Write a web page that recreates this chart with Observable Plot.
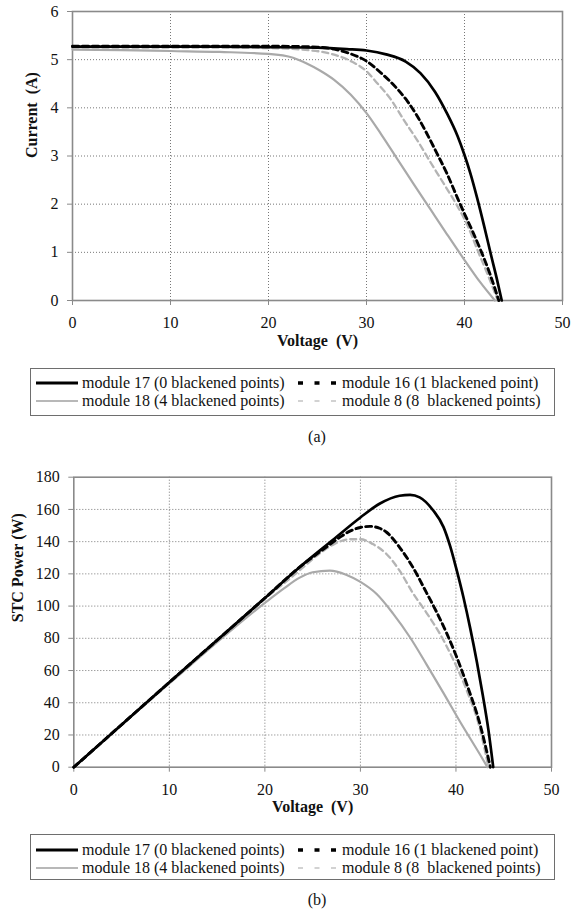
<!DOCTYPE html>
<html><head><meta charset="utf-8">
<script src="https://cdn.jsdelivr.net/npm/d3@7"></script>
<script src="https://cdn.jsdelivr.net/npm/@observablehq/plot@0.6"></script>
<style>
html,body{margin:0;padding:0;background:#fff;}
#page{position:relative;width:572px;height:912px;font-family:"Liberation Serif","Times New Roman",serif;color:#111;overflow:hidden;background:#fff;}
.chart{position:absolute;left:0;}
.legend{position:absolute;border:1px solid #6e6e6e;box-sizing:border-box;background:#fff;}
.item{position:absolute;font-size:16px;line-height:18px;white-space:pre;transform:translateY(-50%);}
.swatch{position:absolute;transform:translateY(-50%);}
.cap{position:absolute;font-size:16px;transform:translate(-50%,-50%);}
</style></head><body><div id="page"></div>
<script>
// ---------- data ----------
const voltageTicks = [0, 10, 20, 30, 40, 50];
const currentTicks = [0, 1, 2, 3, 4, 5, 6];
const powerTicks = [0, 20, 40, 60, 80, 100, 120, 140, 160, 180];
const seriesNames = ["module 17 (0 blackened points)", "module 16 (1 blackened point)", "module 18 (4 blackened points)", "module 8 (8\u00a0 blackened points)"];
const panelCaptions = ["(a)", "(b)"];
const xTitle = "Voltage\u00a0 (V)";
const yTitleA = "Current\u00a0 (A)";
const yTitleB = "STC Power (W)";

// I-V curves (panel a)
const ivV17 = [0, 5, 10, 15, 20, 25, 28, 30, 32, 34, 35.5, 37, 38.2, 39.3, 40, 40.6, 41.3, 42.0, 42.7, 43.3, 43.8];
const ivI17 = [5.27, 5.27, 5.27, 5.27, 5.26, 5.25, 5.22, 5.19, 5.11, 4.96, 4.72, 4.33, 3.89, 3.41, 3.02, 2.64, 2.12, 1.55, 0.95, 0.45, 0];
const ivV16 = [0, 5, 10, 15, 20, 25, 26.7, 28.4, 30, 31.5, 33.2, 34.2, 35.2, 36.2, 37.2, 38.2, 39.3, 40, 40.9, 41.7, 42.6, 43.5];
const ivI16 = [5.28, 5.28, 5.28, 5.28, 5.28, 5.26, 5.22, 5.12, 4.97, 4.72, 4.38, 4.13, 3.82, 3.45, 3.05, 2.64, 2.12, 1.80, 1.40, 1.02, 0.55, 0];
const ivV18 = [0, 5, 10, 15, 20, 22.5, 23.9, 25.2, 26.7, 28.4, 30, 31.5, 33.2, 34.8, 36.5, 38.2, 40, 41.6, 43.1];
const ivI18 = [5.21, 5.20, 5.18, 5.16, 5.12, 5.04, 4.92, 4.78, 4.58, 4.27, 3.89, 3.45, 2.92, 2.42, 1.90, 1.38, 0.84, 0.38, 0];
const ivV8 = [0, 5, 10, 15, 20, 23.3, 26, 28.4, 30, 31.1, 32.5, 33.8, 35.2, 36.5, 37.9, 39.3, 40.3, 41.3, 42.4, 43.4];
const ivI8 = [5.25, 5.25, 5.25, 5.25, 5.24, 5.21, 5.14, 4.97, 4.76, 4.51, 4.17, 3.75, 3.32, 2.88, 2.42, 1.95, 1.56, 1.06, 0.52, 0];

// P-V curves (panel b)
const pvV17 = [0, 10, 20, 23.6, 27.1, 30, 32, 34.1, 35.2, 36.2, 37.6, 38.7, 39.4, 40, 40.8, 41.5, 42.2, 42.8, 43.4, 43.9];
const pvP17 = [0, 52.7, 105, 124, 141, 155, 163.5, 168.5, 169, 167.5, 159.5, 149, 137, 124, 105, 86, 65, 45, 23, 0];
const pvV16 = [0, 10, 20, 23.6, 26.4, 27.8, 28.9, 30.0, 31.0, 32.0, 32.7, 34.1, 35.5, 36.9, 38, 39, 40, 41.1, 42.5, 43.6];
const pvP16 = [0, 52.7, 105, 124, 136.5, 142.5, 146.5, 148.8, 149.5, 148.3, 146, 136.5, 124, 108.5, 96, 83.5, 69.5, 52, 27, 0];
const pvV18 = [0, 10, 20, 22, 23.6, 25, 26.8, 28.5, 30, 31.7, 33.4, 35.2, 36.9, 38.7, 40.4, 42.5, 43.3];
const pvP18 = [0, 52, 102, 111, 117.5, 121, 122, 119.5, 115, 107.5, 95.5, 80.5, 64, 46, 28.5, 8, 0];
const pvV8 = [0, 10, 20, 23.6, 25.7, 27.1, 28.9, 30, 31.3, 32.7, 34.1, 35.5, 36.9, 38.3, 39.7, 41.1, 42.5, 43.4];
const pvP8 = [0, 52.5, 104.5, 122, 132.5, 138, 141.5, 141.5, 138.5, 132.5, 122, 108, 96, 83, 67, 48, 24, 0];

// ---------- styles ----------
const FONT = '"Liberation Serif","Times New Roman",serif';
const seriesStyle = [
  {stroke: "#000", strokeWidth: 2.7},
  {stroke: "#000", strokeWidth: 2.9, strokeDasharray: "6,4"},
  {stroke: "#a9a9a9", strokeWidth: 2.2},
  {stroke: "#b4b4b4", strokeWidth: 2.3, strokeDasharray: "6,4"}
];
const legendStyle = [
  {stroke: "#000", width: 3.2},
  {stroke: "#000", width: 3.6, dash: "5,11.5"},
  {stroke: "#b8b8b8", width: 2},
  {stroke: "#c4c4c4", width: 1.6, dash: "5,11.5"}
];
const drawOrder = [2, 3, 1, 0];

const zip = (xs, ys) => xs.map((x, k) => ({x, y: ys[k]}));

function chart({series, yDomain, yTicks, yTitle, height, margins, yTitleDx, yTitleDy}) {
  const [mt, mr, mb, ml] = margins;
  const lines = drawOrder.map(k => Plot.line(series[k], {x: "x", y: "y", curve: "monotone-x", ...seriesStyle[k]}));
  return Plot.plot({
    width: 572, height,
    marginTop: mt, marginRight: mr, marginBottom: mb, marginLeft: ml,
    style: {fontFamily: FONT, fontSize: "16px", color: "#111", background: "#fff", overflow: "visible"},
    x: {domain: [0, 50]},
    y: {domain: yDomain},
    marks: [
      Plot.gridX(voltageTicks.slice(1, -1), {stroke: "#777", strokeOpacity: 1, strokeWidth: 1, strokeDasharray: "1,2"}),
      Plot.gridY(yTicks.slice(1, -1), {stroke: "#777", strokeOpacity: 1, strokeWidth: 1, strokeDasharray: "1,2"}),
      Plot.frame({stroke: "#8a8a8a", strokeWidth: 1.6}),
      Plot.axisX(voltageTicks, {tickSize: 5, tickPadding: 11, stroke: "#8a8a8a", label: null, fill: "#111"}),
      Plot.axisY(yTicks, {tickSize: 5, tickPadding: 9, stroke: "#8a8a8a", label: null, fill: "#111"}),
      ...lines,
      Plot.text([xTitle], {text: d => d, frameAnchor: "bottom", dy: 45, fontWeight: "bold", fontSize: 16, fill: "#111"}),
      Plot.text([yTitle], {text: d => d, frameAnchor: "left", rotate: -90, dx: yTitleDx, dy: yTitleDy, fontWeight: "bold", fontSize: 16, fill: "#111"})
    ]
  });
}

const page = document.getElementById("page");

function addChart(svg, top) {
  svg.classList.add("chart");
  svg.style.top = top + "px";
  page.appendChild(svg);
}

function addLegend(top, h, rowOffsets) {
  const box = document.createElement("div");
  box.className = "legend";
  box.style.left = "30px"; box.style.top = top + "px";
  box.style.width = "525px"; box.style.height = h + "px";
  page.appendChild(box);
  const cols = [{sx: 5, sw: 42, tx: 51}, {sx: 267, sw: 38, tx: 311}];
  seriesNames.forEach((name, k) => {
    const col = cols[k % 2], row = rowOffsets[Math.floor(k / 2)];
    const ls = legendStyle[k];
    const ns = "http://www.w3.org/2000/svg";
    const sv = document.createElementNS(ns, "svg");
    sv.setAttribute("width", col.sw); sv.setAttribute("height", 8);
    sv.setAttribute("class", "swatch");
    sv.style.left = col.sx + "px"; sv.style.top = row + "px";
    const ln = document.createElementNS(ns, "line");
    ln.setAttribute("x1", 0); ln.setAttribute("x2", col.sw);
    ln.setAttribute("y1", 4); ln.setAttribute("y2", 4);
    ln.setAttribute("stroke", ls.stroke); ln.setAttribute("stroke-width", ls.width);
    if (ls.dash) ln.setAttribute("stroke-dasharray", ls.dash);
    sv.appendChild(ln);
    box.appendChild(sv);
    const t = document.createElement("div");
    t.className = "item";
    t.textContent = name;
    t.style.left = col.tx + "px"; t.style.top = row + "px";
    box.appendChild(t);
  });
}

function addCaption(text, x, y) {
  const d = document.createElement("div");
  d.className = "cap"; d.textContent = text;
  d.style.left = x + "px"; d.style.top = y + "px";
  page.appendChild(d);
}

const ivSeries = [zip(ivV17, ivI17), zip(ivV16, ivI16), zip(ivV18, ivI18), zip(ivV8, ivI8)];
const pvSeries = [zip(pvV17, pvP17), zip(pvV16, pvP16), zip(pvV18, pvP18), zip(pvV8, pvP8)];

addChart(chart({series: ivSeries, yDomain: [0, 6], yTicks: currentTicks, yTitle: yTitleA,
  height: 360, margins: [11, 10, 60, 72], yTitleDx: -41, yTitleDy: 2}), 0);
addLegend(368, 48, [14, 32]);
addCaption(panelCaptions[0], 317, 437);

addChart(chart({series: pvSeries, yDomain: [0, 180], yTicks: powerTicks, yTitle: yTitleB,
  height: 380, margins: [26.7, 21, 63.3, 73.3], yTitleDx: -56, yTitleDy: 0}), 450);
addLegend(834, 46, [14.5, 32.5]);
addCaption(panelCaptions[1], 317, 900);
</script></body></html>
